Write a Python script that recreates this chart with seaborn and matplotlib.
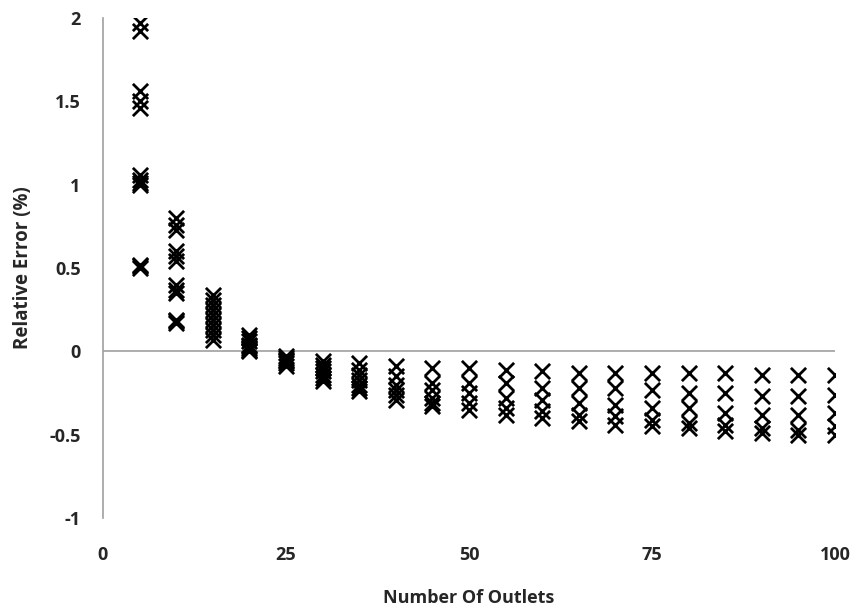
import matplotlib
matplotlib.use("Agg")
import matplotlib.pyplot as plt
import pandas as pd
import seaborn as sns

# --- Data (relative error per outlet count) ---
outlets = [5, 10, 15, 20, 25, 30, 35, 40, 45, 50,
           55, 60, 65, 70, 75, 80, 85, 90, 95, 100]

errors = {
    5: [1.97, 1.92, 1.56, 1.50, 1.46, 1.06, 1.03, 1.01, 1.00, 0.52, 0.51, 0.50],
    10: [0.80, 0.76, 0.73, 0.60, 0.57, 0.54, 0.40, 0.37, 0.35, 0.19, 0.18, 0.17],
    15: [0.34, 0.31, 0.28, 0.25, 0.22, 0.19, 0.16, 0.13, 0.10, 0.07],
    20: [0.10, 0.08, 0.06, 0.04, 0.03, 0.02, 0.01, 0.0],
    25: [-0.025, -0.04, -0.05, -0.06, -0.07, -0.085],
    30: [-0.055, -0.08, -0.10, -0.12, -0.14, -0.16, -0.18],
    35: [-0.07, -0.11, -0.14, -0.17, -0.20, -0.22, -0.24],
    40: [-0.085, -0.15, -0.20, -0.23, -0.26, -0.29],
    45: [-0.10, -0.19, -0.23, -0.28, -0.31, -0.33],
    50: [-0.10, -0.19, -0.25, -0.31, -0.35],
    55: [-0.11, -0.19, -0.28, -0.34, -0.38],
    60: [-0.12, -0.22, -0.29, -0.36, -0.40],
    65: [-0.13, -0.22, -0.31, -0.38, -0.42],
    70: [-0.13, -0.22, -0.32, -0.39, -0.44],
    75: [-0.13, -0.23, -0.34, -0.41, -0.45],
    80: [-0.13, -0.25, -0.34, -0.43, -0.46],
    85: [-0.13, -0.25, -0.37, -0.44, -0.48],
    90: [-0.14, -0.27, -0.38, -0.46, -0.49],
    95: [-0.14, -0.27, -0.38, -0.47, -0.50],
    100: [-0.14, -0.26, -0.37, -0.45, -0.50],
}

x_ticks = [0, 25, 50, 75, 100]
y_ticks = [-1, -0.5, 0, 0.5, 1, 1.5, 2]
y_tick_labels = ["-1", "-0.5", "0", "0.5", "1", "1.5", "2"]

rows = [(n, e) for n in outlets for e in errors[n]]
df = pd.DataFrame(rows, columns=["outlets", "error"])

sns.set_style("white")
plt.rcParams["font.family"] = ["Open Sans", "DejaVu Sans"]

fig = plt.figure(figsize=(8.52, 6.09), dpi=100)
ax = fig.add_axes([103 / 852, 1 - 518 / 609, 732 / 852, 500 / 609])

sns.scatterplot(data=df, x="outlets", y="error", marker="x", s=120,
                color="black", linewidth=2.0, ax=ax, legend=False)

ax.axhline(0, color="#a0a0a0", lw=1.2, zorder=0)
ax.set_xlim(0, 100)
ax.set_ylim(-1, 2)
ax.set_xticks(x_ticks)
ax.set_yticks(y_ticks)
ax.set_yticklabels(y_tick_labels)
ax.tick_params(axis="both", length=0, labelsize=13)
ax.tick_params(axis="x", pad=20)
ax.tick_params(axis="y", pad=16)
for lab in ax.get_xticklabels() + ax.get_yticklabels():
    lab.set_fontweight("bold")

for side in ["top", "right", "bottom"]:
    ax.spines[side].set_visible(False)
ax.spines["left"].set_color("#a0a0a0")
ax.spines["left"].set_linewidth(1.2)

ax.set_xlabel("Number Of Outlets", fontsize=13, fontweight="bold", labelpad=18)
ax.set_ylabel("Relative Error (%)", fontsize=13.5, fontweight="bold", labelpad=12)

fig.savefig("out.png", dpi=100)
